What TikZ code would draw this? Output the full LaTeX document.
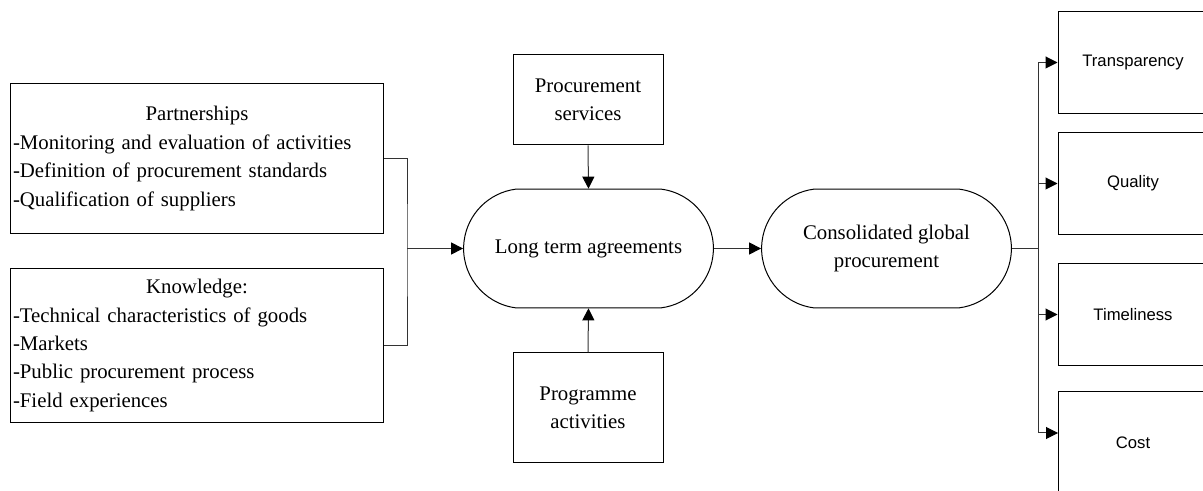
\documentclass[tikz,border=0pt]{standalone}
\usepackage{fontspec}
\setmainfont{Liberation Serif}
\newfontfamily\arialfont{Liberation Sans}
\usetikzlibrary{arrows.meta,shapes.misc}

\tikzset{
  txt/.style={font=\fontsize{15.6}{21.3}\selectfont},
  listbox/.style={draw, line width=0.75pt, txt, inner xsep=2pt, text width=276pt, minimum height=113pt, align=left},
  inbox/.style={draw, line width=0.75pt, txt, minimum width=112.5pt, align=center},
  pill/.style={draw, line width=0.75pt, txt, rounded rectangle, rounded rectangle arc length=165, minimum width=194pt, minimum height=89pt, align=center},
  outbox/.style={draw, line width=0.75pt, font=\arialfont\fontsize{12.5}{14}\selectfont, minimum width=112.5pt, minimum height=77pt},
  link/.style={line width=0.75pt, draw=black!80},
  arr/.style={link, -{Triangle[length=9pt,width=9pt,color=black]}}
}

\begin{document}
\begin{tikzpicture}[x=0.75pt,y=-0.75pt]
\clip (0,0) rectangle (1203,491);

% boxes on the left
\node[listbox] (partner) at (197,158.5) {\centering Partnerships\par\raggedright
  -Monitoring and evaluation of activities\\
  -Definition of procurement standards\\
  -Qualification of suppliers};
\node[listbox, minimum height=115pt] (knowledge) at (197,345.5) {\centering Knowledge:\par\raggedright
  -Technical characteristics of goods\\
  -Markets\\
  -Public procurement process\\
  -Field experiences};

% middle
\node[inbox, minimum height=67.5pt] (ps) at (588,100) {Procurement\\services};
\node[inbox, minimum height=82pt] (pa) at (588,407.5) {Programme\\activities};
\node[pill] (lt) at (588.5,248.5) {Long term agreements};
\node[pill] (cgp) at (886.5,248.5) {Consolidated global\\procurement};

% results
\node[outbox] (transp) at (1133,62.5) {Transparency};
\node[outbox] (quality) at (1133,183.5) {Quality};
\node[outbox] (timeli) at (1133,314.5) {Timeliness};
\node[outbox] (cost) at (1133,442.5) {Cost};

% Verbindungen
\coordinate (join) at (407,248.5);
\draw[link] (partner.east) -| (join) |- (knowledge.east);
\draw[arr] (join) -- (lt.west);
\draw[arr] (ps.south) -- (lt.north);
\draw[arr] (pa.north) -- (lt.south);
\draw[arr] (lt.east) -- (cgp.west);

\coordinate (fork) at (1038,248.5);
\coordinate (costin) at (1058,433);
\draw[link, line width=1.3pt] (cgp.east) -- (fork);
\draw[link] (fork |- transp.west) -- (fork |- costin);
\draw[arr] (fork |- transp.west) -- (transp.west);
\draw[arr] (fork |- quality.west) -- (quality.west);
\draw[arr] (fork |- timeli.west) -- (timeli.west);
\draw[arr] (fork |- costin) -- (costin);
\end{tikzpicture}
\end{document}
